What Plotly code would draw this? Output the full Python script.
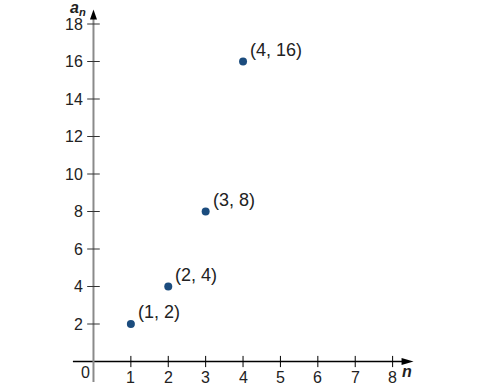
import plotly.graph_objects as go

n_vals = [1, 2, 3, 4]
a_vals = [2, 4, 8, 16]
point_labels = ["(1, 2)", "(2, 4)", "(3, 8)", "(4, 16)"]
x_ticks = [1, 2, 3, 4, 5, 6, 7, 8]
y_ticks = [2, 4, 6, 8, 10, 12, 14, 16, 18]

FONT = "Liberation Sans, Arial, sans-serif"
TXT = "#222222"
DOT = "#1b4c7e"

x_min, x_tip = -0.55, 8.56
y_min, y_tip = -1.09, 18.78

fig = go.Figure()

# axes lines
fig.add_shape(type="line", x0=x_min, x1=x_tip - 0.2, y0=0, y1=0,
              line=dict(color="black", width=1.3), layer="below")
fig.add_shape(type="line", x0=0, x1=0, y0=y_min, y1=y_tip - 0.3,
              line=dict(color="#8a8a8a", width=2), layer="below")
# arrowheads (pixel-sized, anchored at the axis tips)
fig.add_shape(type="path", xsizemode="pixel", ysizemode="pixel",
              xanchor=x_tip, yanchor=0,
              path="M0,0 L-12,3.5 L-12,-3.5 Z",
              fillcolor="black", line=dict(width=0))
fig.add_shape(type="path", xsizemode="pixel", ysizemode="pixel",
              xanchor=0, yanchor=y_tip,
              path="M0,0 L-3.5,-10 L3.5,-10 Z",
              fillcolor="black", line=dict(width=0))

# tick marks
fig.add_trace(go.Scatter(x=x_ticks, y=[0] * len(x_ticks), mode="markers",
                         marker=dict(symbol="line-ns-open", size=8, color="black",
                                     line=dict(color="black", width=1)),
                         hoverinfo="skip", showlegend=False, cliponaxis=False))
fig.add_trace(go.Scatter(x=[0] * len(y_ticks), y=y_ticks, mode="markers",
                         marker=dict(symbol="line-ew-open", size=9, color="#333333",
                                     line=dict(color="#333333", width=1)),
                         hoverinfo="skip", showlegend=False, cliponaxis=False))

# data points
fig.add_trace(go.Scatter(x=n_vals, y=a_vals, mode="markers",
                         marker=dict(size=8, color=DOT),
                         hoverinfo="skip", showlegend=False, cliponaxis=False))

ann = []
for xv, yv, lab in zip(n_vals, a_vals, point_labels):
    ann.append(dict(x=xv, y=yv, text=lab, showarrow=False, xanchor="left",
                    yanchor="middle", xshift=5, yshift=12,
                    font=dict(family=FONT, size=18, color=TXT)))
for t in x_ticks:
    ann.append(dict(x=t, y=0, text=str(t), showarrow=False, xanchor="center",
                    yanchor="top", yshift=-5.5,
                    font=dict(family=FONT, size=16, color=TXT)))
for t in y_ticks:
    ann.append(dict(x=0, y=t, text=str(t), showarrow=False, xanchor="right",
                    yanchor="middle", xshift=-8,
                    font=dict(family=FONT, size=16, color=TXT)))
ann.append(dict(x=0, y=0, text="0", showarrow=False, xanchor="right",
                yanchor="middle", xshift=-1, yshift=-11,
                font=dict(family=FONT, size=16, color=TXT)))
ann.append(dict(x=x_tip, y=0, text="<b><i>n</i></b>", showarrow=False,
                xanchor="right", yanchor="middle", yshift=-10,
                font=dict(family=FONT, size=16, color=TXT)))
ann.append(dict(x=0, y=y_tip, text="<b><i>a</i><sub><i>n</i></sub></b>",
                showarrow=False, xanchor="right", yanchor="middle", xshift=-6,
                yshift=0.5, borderpad=0,
                font=dict(family=FONT, size=16, color=TXT)))

fig.update_layout(
    width=487, height=388,
    margin=dict(l=0, r=56.56, t=0, b=0),
    paper_bgcolor="white", plot_bgcolor="white",
    annotations=ann,
    xaxis=dict(range=[-2.5, 9], visible=False, fixedrange=True),
    yaxis=dict(range=[-1.413, 19.28], visible=False, fixedrange=True),
    showlegend=False,
)

# remove the default 8px page margin so the figure fills the window
fig.write_html("out.html",
               config={"displayModeBar": False},
               post_script="document.body.style.margin='0px';"
                           "document.body.style.overflow='hidden';")
